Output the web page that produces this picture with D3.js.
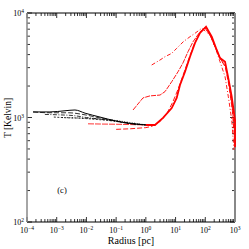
<!DOCTYPE html>
<html><head><meta charset="utf-8">
<script src="https://cdn.jsdelivr.net/npm/d3@7"></script>
<style>body{margin:0;background:#fff}svg{display:block}</style>
</head><body>
<svg id="c" width="249" height="249"></svg>
<script>
// ---- data (radius [pc], T [K]) ----
const xTickExps = [-4,-3,-2,-1,0,1,2,3];
const yTickExps = [2,3,4];
const black1 = [[1.6e-4,1130],[5.9e-4,1130],[1.9e-3,1160],[4.1e-3,1180],[9e-3,1100],[0.0286,1010],[0.0916,930],[0.29,875],[1.0,850]];
const black2 = [[1.6e-4,1130],[5.9e-4,1110],[2.5e-3,1110],[9e-3,1060],[0.0286,990],[0.13,915],[0.4,870],[1.0,850]];
const black3 = [[4e-4,1070],[1.2e-3,1060],[4e-3,1040],[0.01,1000],[0.04,955],[0.15,905],[0.5,865],[1.0,850]];
const black4 = [[8e-4,1010],[2e-3,995],[6e-3,985],[0.02,960],[0.08,925],[0.3,875],[1.0,850]];
const black5 = [[1.5e-3,1000],[5e-3,990],[0.02,975],[0.1,935],[0.5,875],[1.0,850]];
const redLow = [[0.0113,870],[0.03,866],[0.1,862],[0.3,856],[1.0,848],[2.03,848]];
const redMain = [[1.0,848],[2.03,848],[3.78,990],[7.42,1230],[10.9,1540],[14.1,2050],[20.8,2740],[30.6,3820],[45.2,5170],[66.5,6440],[106,7390],[165,5930],[243,4430],[313,3710],[462,3420],[582,2460],[776,1580],[1000,946],[1000,520]];
const redDashed = [[0.1,770],[0.3,780],[1.0,800],[1.5,820],[2.2,860],[3.2,930],[5,1080],[8,1400],[12,1850],[18,2550],[27,3550],[42,5000],[70,6700],[98,7250],[140,6300],[210,4800],[320,3650],[470,3050],[620,2050],[820,1150],[960,620]];
const redThin = [[0.37,1180],[0.80,1540],[1.38,1610],[3.0,1640],[4.42,1770],[7.42,2200],[12.1,2740],[17.8,3330],[26.2,4260],[38.7,5310],[66.5,6620],[98,7180],[150,6000],[230,4500],[330,3600],[480,3100],[620,2200],[800,1300],[980,700]];
const redDashDot = [[1.57,3180],[3.0,3550],[4.42,3820],[7.42,4110],[10.9,4590],[18.2,5310],[30.6,5930],[45.2,6400],[75.9,7140],[145,6160],[213,4760],[313,3420],[462,2460],[597,1580],[776,946],[927,489]];

// ---- layout ----
const svg = d3.select("#c");
const L = 27, R = 235, T = 13, B = 222;
const x = d3.scaleLog().domain([1e-4, 1e3]).range([L, R]);
const y = d3.scaleLog().domain([1e2, 1e4]).range([B, T]);
const font = "'Liberation Serif','Times New Roman',serif";

// ticks
const xMinor = [], yMinor = [];
for (let e = -4; e < 3; e++) for (let k = 2; k <= 9; k++) xMinor.push(k * Math.pow(10, e));
for (let e = 2; e < 4; e++) for (let k = 2; k <= 9; k++) yMinor.push(k * Math.pow(10, e));
const xMajor = xTickExps.map(e => Math.pow(10, e));
const yMajor = yTickExps.map(e => Math.pow(10, e));

const g = svg.append("g").attr("stroke", "#000").attr("stroke-width", 0.8);
xMinor.forEach(v => {
  g.append("line").attr("x1", x(v)).attr("x2", x(v)).attr("y1", B).attr("y2", B - 3);
  g.append("line").attr("x1", x(v)).attr("x2", x(v)).attr("y1", T).attr("y2", T + 3);
});
xMajor.forEach(v => {
  g.append("line").attr("x1", x(v)).attr("x2", x(v)).attr("y1", B).attr("y2", B - 5);
  g.append("line").attr("x1", x(v)).attr("x2", x(v)).attr("y1", T).attr("y2", T + 5);
});
yMinor.forEach(v => {
  g.append("line").attr("x1", L).attr("x2", L + 3).attr("y1", y(v)).attr("y2", y(v));
  g.append("line").attr("x1", R).attr("x2", R - 3).attr("y1", y(v)).attr("y2", y(v));
});
yMajor.forEach(v => {
  g.append("line").attr("x1", L).attr("x2", L + 5).attr("y1", y(v)).attr("y2", y(v));
  g.append("line").attr("x1", R).attr("x2", R - 5).attr("y1", y(v)).attr("y2", y(v));
});

// frame
svg.append("line").attr("x1", L).attr("x2", R).attr("y1", T).attr("y2", T).attr("stroke", "#000").attr("stroke-width", 1);
svg.append("line").attr("x1", L).attr("x2", R).attr("y1", B).attr("y2", B).attr("stroke", "#000").attr("stroke-width", 1);
svg.append("line").attr("x1", L).attr("x2", L).attr("y1", T).attr("y2", B).attr("stroke", "#888").attr("stroke-width", 1.5);
svg.append("line").attr("x1", R).attr("x2", R).attr("y1", T).attr("y2", B).attr("stroke", "#888").attr("stroke-width", 2);

// tick labels
xTickExps.forEach(e => {
  const t = svg.append("text").attr("x", x(Math.pow(10, e))).attr("y", 233)
    .attr("text-anchor", "middle").attr("font-family", font).attr("font-size", 8).attr("fill", "#000");
  t.append("tspan").text("10");
  t.append("tspan").attr("dy", -3).attr("font-size", 5.5).text(e < 0 ? "\u2212" + (-e) : String(e));
});
yTickExps.forEach(e => {
  const t = svg.append("text").attr("x", 24).attr("y", y(Math.pow(10, e)) + 3)
    .attr("text-anchor", "end").attr("font-family", font).attr("font-size", 8).attr("fill", "#000");
  t.append("tspan").text("10");
  t.append("tspan").attr("dy", -3).attr("font-size", 5.5).text(String(e));
});

// axis titles
svg.append("text").attr("x", 131).attr("y", 244).attr("text-anchor", "middle")
  .attr("font-family", font).attr("font-size", 10).attr("fill", "#000").text("Radius [pc]");
svg.append("text").attr("transform", "translate(11,118) rotate(-90)").attr("text-anchor", "middle")
  .attr("font-family", font).attr("font-size", 9.5).attr("fill", "#000").text("T [Kelvin]");
svg.append("text").attr("x", 62).attr("y", 193).attr("text-anchor", "middle")
  .attr("font-family", font).attr("font-size", 8.5).attr("fill", "#000").text("(c)");

// curves
const line = d3.line().x(d => x(d[0])).y(d => y(d[1])).curve(d3.curveMonotoneX);
const lineC = d3.line().x(d => x(d[0])).y(d => y(d[1])).curve(d3.curveLinear);
const plot = svg.append("g").attr("fill", "none");
function draw(data, color, w, dash, gen) {
  const p = plot.append("path").datum(data).attr("d", (gen || line)).attr("stroke", color).attr("stroke-width", w);
  if (dash) p.attr("stroke-dasharray", dash);
}
draw(redLow, "#f00", 0.8, "6,1", lineC);
draw(black5, "#000", 0.8, "1,1.5");
draw(black4, "#000", 0.8, "2,1.5");
draw(black3, "#000", 0.8, "4,1.5,1,1.5");
draw(black2, "#000", 0.8, "5,2");
draw(black1, "#000", 1.0, null);
draw(redDashDot, "#f00", 0.9, "4,2,1,2", lineC);
draw(redThin, "#f00", 0.9, "5,1", lineC);
draw(redDashed, "#f00", 0.9, "5,2", lineC);
draw(redMain, "#f00", 1.8, null, lineC);
</script>
</body></html>
